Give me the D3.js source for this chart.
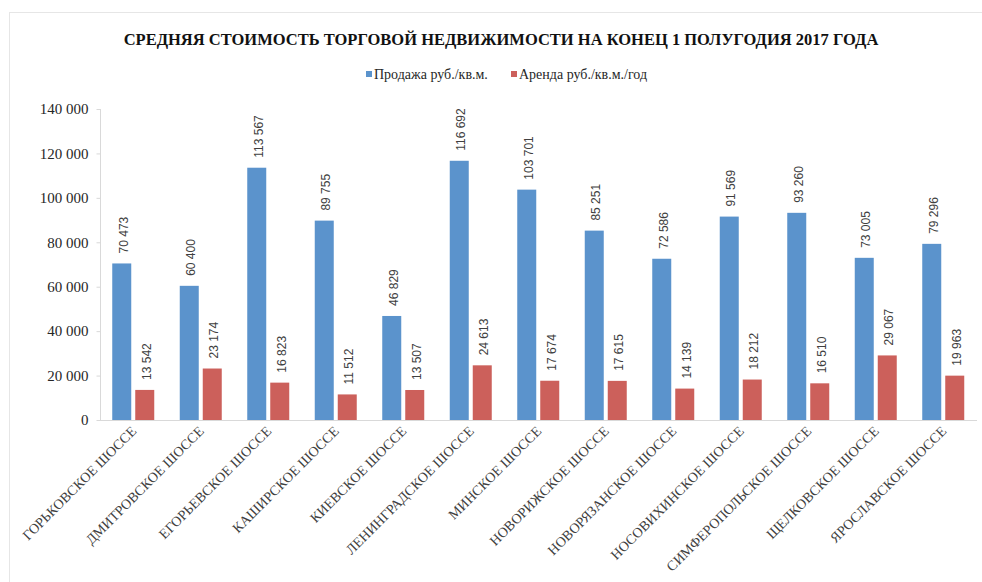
<!doctype html>
<html>
<head>
<meta charset="utf-8">
<style>
    body { margin: 0; background: #fff; }
    .axis path, .axis line { stroke: #d9d9d9; }
</style>
<script src="https://d3js.org/d3.v7.min.js"></script>
</head>
<body>
<svg width="982" height="582"></svg>
<script>
    // data
    var categories = ["ГОРЬКОВСКОЕ ШОССЕ", "ДМИТРОВСКОЕ ШОССЕ", "ЕГОРЬЕВСКОЕ ШОССЕ", "КАШИРСКОЕ ШОССЕ",
        "КИЕВСКОЕ ШОССЕ", "ЛЕНИНГРАДСКОЕ ШОССЕ", "МИНСКОЕ ШОССЕ", "НОВОРИЖСКОЕ ШОССЕ",
        "НОВОРЯЗАНСКОЕ ШОССЕ", "НОСОВИХИНСКОЕ ШОССЕ", "СИМФЕРОПОЛЬСКОЕ ШОССЕ", "ЩЕЛКОВСКОЕ ШОССЕ",
        "ЯРОСЛАВСКОЕ ШОССЕ"];
    var sale = [70473, 60400, 113567, 89755, 46829, 116692, 103701, 85251, 72586, 91569, 93260, 73005, 79296];
    var rent = [13542, 23174, 16823, 11512, 13507, 24613, 17674, 17615, 14139, 18212, 16510, 29067, 19963];
    var seriesNames = ["Продажа руб./кв.м.", "Аренда руб./кв.м./год"];
    var colors = ["#5b93cc", "#cc605b"];
    var yTicks = [0, 20000, 40000, 60000, 80000, 100000, 120000, 140000];

    var serif = "'Liberation Serif', 'Times New Roman', serif";
    var svg = d3.select("svg");
    var fmt = function(v) { return d3.format(",")(v).replace(/,/g, " "); };

    // frame
    svg.append("rect")
       .attr("x", 9.5).attr("y", 12.5)
       .attr("width", 990).attr("height", 600)
       .attr("fill", "none").attr("stroke", "#e6e6e6");

    svg.append("text")
       .attr("x", 501).attr("y", 45)
       .attr("text-anchor", "middle")
       .attr("font-family", serif)
       .attr("font-weight", "bold")
       .attr("font-size", "16.5px")
       .attr("fill", "#111")
       .text("СРЕДНЯЯ СТОИМОСТЬ ТОРГОВОЙ НЕДВИЖИМОСТИ НА КОНЕЦ 1 ПОЛУГОДИЯ 2017 ГОДА");

    // legend
    var legX = [366, 511];
    seriesNames.forEach(function(n, i) {
        svg.append("rect")
           .attr("x", legX[i]).attr("y", 71)
           .attr("width", 6).attr("height", 6)
           .attr("fill", colors[i]);
        svg.append("text")
           .attr("x", legX[i] + 8).attr("y", 79)
           .attr("font-family", serif)
           .attr("font-size", "14px")
           .attr("fill", "#262626")
           .text(n);
    });

    var x = d3.scaleBand().domain(categories).range([99.5, 977]);
    var y = d3.scaleLinear().domain([0, 140000]).range([420, 109]);
    var barW = 19, gap = 4;
    var off = (x.bandwidth() - (2 * barW + gap)) / 2;

    var ya = svg.append("g")
       .attr("class", "axis")
       .attr("transform", "translate(100.5,0)")
       .call(d3.axisLeft(y).tickValues(yTicks).tickSize(4).tickPadding(8).tickFormat(fmt));
    ya.select(".domain").attr("d", "M-0,109V420");
    ya.selectAll("text")
      .attr("font-family", serif)
      .attr("font-size", "15px")
      .attr("fill", "#262626");

    svg.append("line")
       .attr("x1", 100).attr("x2", 977)
       .attr("y1", 420.5).attr("y2", 420.5)
       .attr("stroke", "#d9d9d9");

    var series = [sale, rent];
    series.forEach(function(vals, s) {
        var g = svg.append("g");
        g.selectAll("rect")
         .data(vals)
         .enter().append("rect")
         .attr("x", function(d, i) { return x(categories[i]) + off + s * (barW + gap); })
         .attr("y", function(d) { return y(d); })
         .attr("width", barW)
         .attr("height", function(d) { return 420 - y(d); })
         .attr("fill", colors[s]);

        g.selectAll("text")
         .data(vals)
         .enter().append("text")
         .attr("font-family", "'Liberation Sans', Arial, sans-serif")
         .attr("font-size", "12px")
         .attr("fill", "#404040")
         .attr("transform", function(d, i) {
             var cx = x(categories[i]) + off + s * (barW + gap) + barW / 2 + 2;
             return "translate(" + cx + "," + (y(d) - 10) + ") rotate(-90)";
         })
         .attr("dy", "0.35em")
         .text(fmt);
    });

    // category labels
    svg.selectAll(".xlab")
       .data(categories)
       .enter().append("text")
       .attr("class", "xlab")
       .attr("font-family", serif)
       .attr("font-size", "14px")
       .attr("fill", "#404040")
       .attr("text-anchor", "end")
       .attr("transform", function(d) {
           return "translate(" + (x(d) + x.bandwidth() / 2 + 4) + ",432) rotate(-45)";
       })
       .text(function(d) { return d; });
</script>
</body>
</html>
